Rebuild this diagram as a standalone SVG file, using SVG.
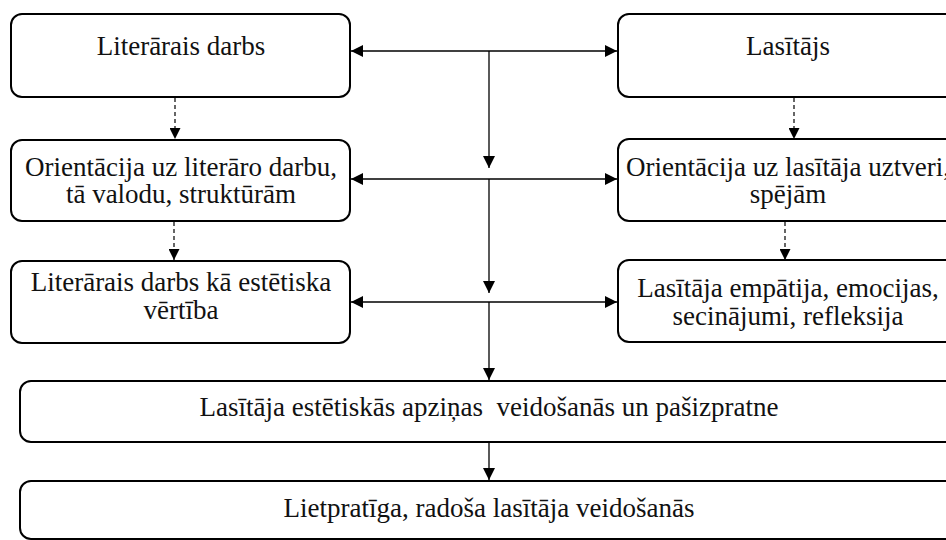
<svg xmlns="http://www.w3.org/2000/svg" width="946" height="540" viewBox="0 0 946 540">
<style>
.box{fill:#fff;stroke:#000;stroke-width:2}
.t{font-family:"Liberation Serif","Times New Roman",serif;font-size:27px;fill:#111;text-anchor:middle}
.c{stroke:#000;stroke-width:1.3;fill:none}
.d{stroke:#000;stroke-width:1.2;fill:none;stroke-dasharray:4 3}
</style>
<defs>
<marker id="ah" viewBox="0 0 12 12" refX="12" refY="6" markerWidth="12" markerHeight="12" markerUnits="userSpaceOnUse" orient="auto-start-reverse">
<path d="M0,0 L12,6 L0,12 Z" fill="#000"/>
</marker>
<marker id="ahd" viewBox="0 0 12 12" refX="12" refY="6" markerWidth="11" markerHeight="11" markerUnits="userSpaceOnUse" orient="auto">
<path d="M0,0 L12,6 L0,12 Z" fill="#000"/>
</marker>
</defs>
<rect width="946" height="540" fill="#fff"/>
<g id="connectors">
<line class="c" x1="351" y1="51" x2="617" y2="51" marker-start="url(#ah)" marker-end="url(#ah)"/>
<line class="c" x1="489" y1="51" x2="489" y2="168" marker-end="url(#ah)"/>
<line class="c" x1="351" y1="179" x2="617" y2="179" marker-start="url(#ah)" marker-end="url(#ah)"/>
<line class="c" x1="489" y1="179" x2="489" y2="293" marker-end="url(#ah)"/>
<line class="c" x1="351" y1="302" x2="617" y2="302" marker-start="url(#ah)" marker-end="url(#ah)"/>
<line class="c" x1="489" y1="302" x2="489" y2="380" marker-end="url(#ah)"/>
<line class="c" x1="489" y1="442" x2="489" y2="480" marker-end="url(#ah)"/>
<line class="d" x1="175" y1="98" x2="175" y2="139" marker-end="url(#ahd)"/>
<line class="d" x1="174" y1="222" x2="174" y2="260" marker-end="url(#ahd)"/>
<line class="d" x1="794" y1="98" x2="794" y2="139" marker-end="url(#ahd)"/>
<line class="d" x1="785" y1="222" x2="785" y2="260" marker-end="url(#ahd)"/>
</g>
<g id="n1">
<rect class="box" x="11" y="14" width="339" height="83" rx="11"/>
<text class="t" x="181" y="55">Literārais darbs</text>
</g>
<g id="n2">
<rect class="box" x="618" y="14" width="340" height="83" rx="11"/>
<text class="t" x="788" y="55">Lasītājs</text>
</g>
<g id="n3">
<rect class="box" x="11" y="140" width="339" height="81" rx="11"/>
<text class="t" x="181" y="176">Orientācija uz literāro darbu,</text>
<text class="t" x="181" y="203">tā valodu, struktūrām</text>
</g>
<g id="n4">
<rect class="box" x="618" y="139" width="340" height="82" rx="11"/>
<text class="t" x="788" y="176">Orientācija uz lasītāja uztveri,</text>
<text class="t" x="788" y="203">spējām</text>
</g>
<g id="n5">
<rect class="box" x="11" y="261" width="339" height="82" rx="11"/>
<text class="t" x="181" y="291">Literārais darbs kā estētiska</text>
<text class="t" x="181" y="319">vērtība</text>
</g>
<g id="n6">
<rect class="box" x="618" y="260" width="340" height="82" rx="11"/>
<text class="t" x="788" y="297">Lasītāja empātija, emocijas,</text>
<text class="t" x="788" y="325">secinājumi, refleksija</text>
</g>
<g id="n7">
<rect class="box" x="20" y="381" width="938" height="61" rx="11"/>
<text class="t" x="489" y="416" xml:space="preserve">Lasītāja estētiskās apziņas  veidošanās un pašizpratne</text>
</g>
<g id="n8">
<rect class="box" x="20" y="481" width="938" height="58" rx="11"/>
<text class="t" x="489" y="517">Lietpratīga, radoša lasītāja veidošanās</text>
</g>
</svg>
